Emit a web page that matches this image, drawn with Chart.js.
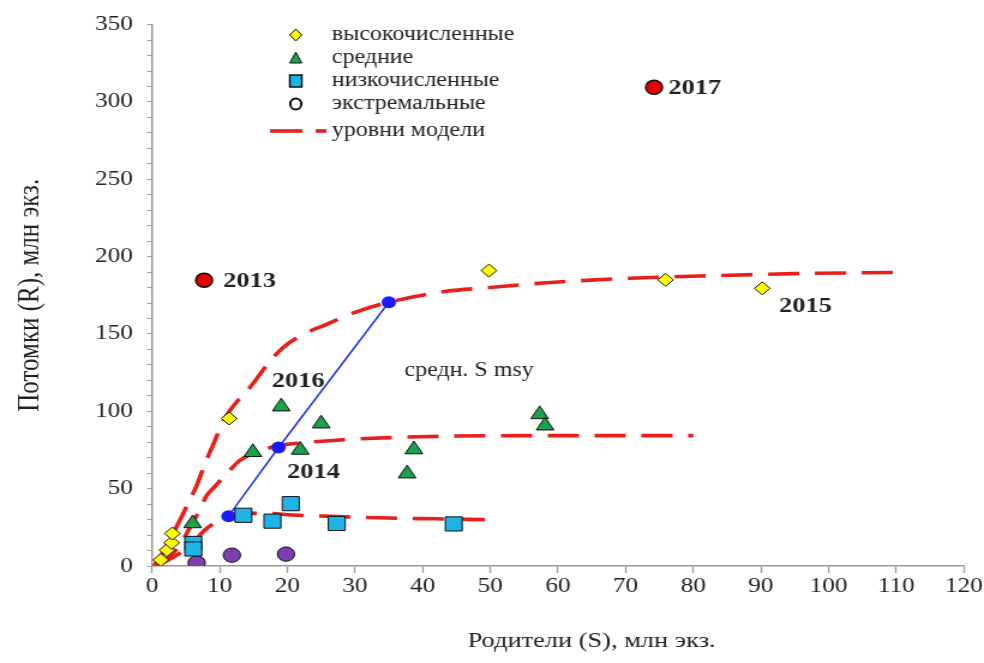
<!DOCTYPE html>
<html>
<head>
<meta charset="utf-8">
<script src="https://cdn.jsdelivr.net/npm/chart.js@4/dist/chart.umd.min.js"></script>
<style>
  html, body { margin: 0; padding: 0; background: #fff; overflow: hidden; }
  /* the figure is drawn narrow and widened to its final 984px width */
  #wrap { width: 820px; height: 663px; transform: scaleX(1.2); transform-origin: 0 0; }
  canvas { display: block; }
</style>
</head>
<body>
<div id="wrap"><canvas id="c" width="820" height="663"></canvas></div>
<script>
// Stock–recruitment observations, S = spawners, R = recruits (mln fish)
const highS = [1.3, 2.2, 2.9, 3.0, 11.4, 49.8, 75.9, 90.2];
const highR = [3.9, 10.3, 15.0, 21.0, 95.4, 191.0, 185.0, 179.5];

const midS = [6.0, 14.9, 19.1, 21.9, 25.0, 37.7, 38.7, 57.3, 58.1];
const midR = [27.5, 73.5, 103.0, 75.0, 92.0, 59.7, 75.3, 98.0, 90.7];

const lowS = [6.1, 6.1, 13.5, 17.8, 20.5, 27.3, 44.6];
const lowR = [14.6, 11.0, 32.8, 29.0, 40.3, 27.5, 27.2];

const extS = [6.6, 11.8, 19.8];
const extR = [2.0, 7.0, 7.7];

const redS = [7.7, 74.2];
const redR = [184.7, 309.5];

// Spawner stock giving maximum sustainable yield on each model level
const msyS = [11.3, 18.7, 35.0];
const msyR = [32.2, 76.6, 170.5];

// Model recruitment levels
const upperS = [0.3, 1.5, 3, 4.5, 5.5, 6.5, 8, 9, 10.7, 12.5, 14.4, 17, 19.3, 22, 25.7, 30, 35, 43.5, 50, 57.8, 70.7, 83, 95, 110.7];
const upperR = [0, 8, 20, 33, 42, 51, 68, 78, 95, 106, 115, 130, 141, 149, 156, 164, 170.5, 177.6, 180, 183, 186, 187.7, 189, 189.8];

const middleS = [0.3, 2, 4, 5.5, 7, 8, 9.2, 11.1, 12.9, 14.5, 16.8, 19, 21.8, 27.7, 35, 45, 60, 80];
const middleR = [0, 4, 13, 24, 36, 45, 51, 60, 68, 72, 75.7, 78, 79.5, 81.5, 83, 84, 84.3, 84.3];

const lowerS = [0.3, 2, 4, 6, 8, 9.4, 11, 13, 14.4, 17, 20.7, 27.2, 35, 42, 49.2];
const lowerR = [0, 3, 8, 15, 24, 28, 31, 33, 34, 34, 33, 32, 31, 30.5, 30];

// Year annotations attached to observations: [text, S, R]
const yearNotes = [
  ['2013', 7.7, 184.7],
  ['2017', 74.2, 309.5],
  ['2015', 90.2, 179.5],
  ['2016', 19.1, 103.0],
  ['2014', 21.9, 75.0]
];

const xTicks = [0, 10, 20, 30, 40, 50, 60, 70, 80, 90, 100, 110, 120];

const legendLabels = ['высокочисленные', 'средние', 'низкочисленные', 'экстремальные', 'уровни модели'];

const pts = (xs, ys) => xs.map((x, i) => ({ x, y: ys[i] }));

const SERIF = "'Liberation Serif', 'Times New Roman', serif";
const RED = '#e8201c';

const curve = (xs, ys) => ({
  data: pts(xs, ys),
  showLine: true,
  borderColor: RED,
  borderWidth: 3.6,
  borderDash: [26, 13],
  pointRadius: 0,
  cubicInterpolationMode: 'monotone',
  fill: false,
  order: 3
});

const marker = (xs, ys, style, color, r) => ({
  data: pts(xs, ys),
  showLine: false,
  pointStyle: style,
  pointRadius: r,
  backgroundColor: color,
  borderColor: '#111',
  borderWidth: 1,
  order: 0
});

// Legend, annotations and x-axis title drawn on top of the chart
const overlay = {
  id: 'overlay',
  afterDatasetsDraw(chart) {
    const { ctx, scales: { x, y } } = chart;
    ctx.save();

    // legend block
    const lx = 246.5, tx = 276.5, rows = [35, 58, 81, 104, 131];
    ctx.fillStyle = '#222';
    ctx.font = `20px ${SERIF}`;
    ctx.textBaseline = 'middle';
    ctx.textAlign = 'left';
    legendLabels.forEach((t, i) => ctx.fillText(t, tx, rows[i]));

    ctx.lineWidth = 1;
    ctx.strokeStyle = '#111';
    // diamond
    ctx.beginPath();
    ctx.moveTo(lx, rows[0] - 6); ctx.lineTo(lx + 5, rows[0]); ctx.lineTo(lx, rows[0] + 6); ctx.lineTo(lx - 5, rows[0]); ctx.closePath();
    ctx.fillStyle = '#ffff00'; ctx.fill(); ctx.stroke();
    // triangle
    ctx.beginPath();
    ctx.moveTo(lx, rows[1] - 6); ctx.lineTo(lx + 5, rows[1] + 5); ctx.lineTo(lx - 5, rows[1] + 5); ctx.closePath();
    ctx.fillStyle = '#1aa34a'; ctx.fill(); ctx.stroke();
    // square
    ctx.fillStyle = '#1eb4e8';
    ctx.fillRect(lx - 5, rows[2] - 6, 10, 12);
    ctx.lineWidth = 1.5;
    ctx.strokeRect(lx - 5, rows[2] - 6, 10, 12);
    // hollow circle
    ctx.beginPath();
    ctx.ellipse(lx, rows[3], 4.6, 5.5, 0, 0, Math.PI * 2);
    ctx.lineWidth = 2;
    ctx.stroke();
    // dashed line sample
    ctx.strokeStyle = RED;
    ctx.lineWidth = 3.6;
    ctx.beginPath(); ctx.moveTo(225, rows[4]); ctx.lineTo(252, rows[4]); ctx.stroke();
    ctx.beginPath(); ctx.moveTo(263, rows[4]); ctx.lineTo(272, rows[4]); ctx.stroke();

    // year labels
    ctx.fillStyle = '#222';
    ctx.font = `bold 22px ${SERIF}`;
    const offs = { '2013': [16, 1], '2017': [12, 1], '2015': [14, 18], '2016': [-8, -25], '2014': [-11, 22] };
    yearNotes.forEach(([t, s, r]) => {
      const [dx, dy] = offs[t];
      ctx.fillText(t, x.getPixelForValue(s) + dx, y.getPixelForValue(r) + dy);
    });

    ctx.font = `20px ${SERIF}`;
    ctx.fillText('средн. S msy', 337, 371);

    // x-axis title
    ctx.textAlign = 'center';
    ctx.font = `22px ${SERIF}`;
    ctx.fillText('Родители (S), млн экз.', 493, 641);

    ctx.restore();
  }
};

new Chart(document.getElementById('c'), {
  type: 'scatter',
  data: {
    datasets: [
      marker(highS, highR, 'rectRot', '#ffff00', 6.5),
      marker(midS, midR, 'triangle', '#1aa34a', 8.5),
      marker(lowS, lowR, 'rect', '#1eb4e8', 10),
      marker(extS, extR, 'circle', '#7a3fb0', 7.2),
      Object.assign(marker(redS, redR, 'circle', '#e60000', 7), { borderWidth: 1.5 }),
      {
        data: pts(msyS, msyR),
        showLine: true,
        borderColor: '#2233ee',
        borderWidth: 1.5,
        pointRadius: 6,
        pointBackgroundColor: '#1a1aff',
        pointBorderWidth: 0,
        order: 1
      },
      curve(upperS, upperR),
      curve(middleS, middleR),
      curve(lowerS, lowerR)
    ]
  },
  options: {
    responsive: false,
    animation: false,
    devicePixelRatio: 1,
    layout: { padding: { top: 22, right: 15.8, left: 0, bottom: 0 } },
    plugins: { legend: { display: false }, tooltip: { enabled: false } },
    scales: {
      x: {
        type: 'linear',
        min: 0, max: 120,
        afterBuildTicks: (s) => { s.ticks = xTicks.map(v => ({ value: v })); },
        afterFit: (s) => { s.height = 97; },
        border: { color: '#9a9a9a', width: 1.5 },
        grid: { drawOnChartArea: false, drawTicks: true, tickLength: 7, color: '#9a9a9a', tickWidth: 1.3 },
        ticks: { color: '#222', font: { family: SERIF, size: 21 }, padding: 1, maxRotation: 0 },
        title: { display: false }
      },
      y: {
        type: 'linear',
        min: 0, max: 350,
        afterFit: (s) => { s.width = 126.7; },
        border: { color: '#9a9a9a', width: 1.5 },
        grid: { drawOnChartArea: false, drawTicks: true, tickLength: 4, color: '#9a9a9a' },
        ticks: {
          stepSize: 10,
          autoSkip: false,
          color: '#222',
          font: { family: SERIF, size: 21 },
          padding: 12,
          callback: (v) => (v % 50 === 0 ? String(v) : '')
        },
        title: {
          display: true,
          text: 'Потомки (R), млн экз.',
          color: '#222',
          font: { family: SERIF, size: 25 },
          padding: { top: 10, bottom: 0 }
        }
      }
    }
  },
  plugins: [overlay]
});
</script>
</body>
</html>
